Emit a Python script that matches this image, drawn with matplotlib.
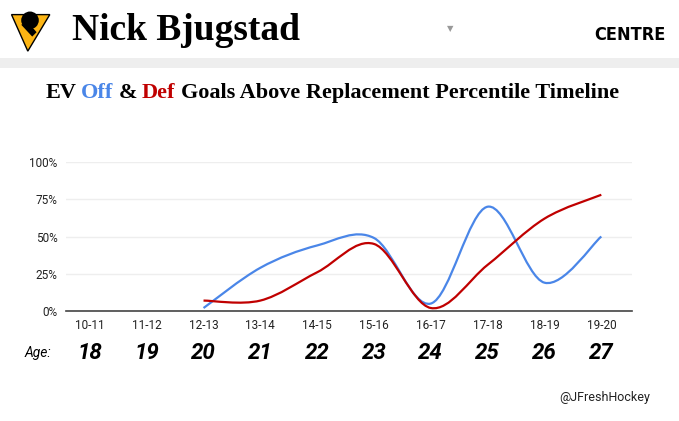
import matplotlib.pyplot as plt
from matplotlib.path import Path
from matplotlib.patches import PathPatch, Polygon, Rectangle, Circle

seasons = ["10-11", "11-12", "12-13", "13-14", "14-15", "15-16", "16-17", "17-18", "18-19", "19-20"]
ages = [18, 19, 20, 21, 22, 23, 24, 25, 26, 27]
# percentiles, None = no season played
off_pct = [None, None, 0.02, 0.29, 0.44, 0.49, 0.05, 0.70, 0.19, 0.50]
def_pct = [None, None, 0.07, 0.07, 0.26, 0.45, 0.02, 0.31, 0.62, 0.78]
yticks = [0, 0.25, 0.5, 0.75, 1.0]
ytick_labels = ["0%", "25%", "50%", "75%", "100%"]

BLUE = "#4a86e8"
RED = "#c00000"
W, H = 679, 421


def smooth_path(xs, ys):
    # catmull-rom style bezier through the points
    pts = list(zip(xs, ys))
    verts = [pts[0]]
    codes = [Path.MOVETO]
    n = len(pts)
    for i in range(n - 1):
        p0 = pts[i - 1] if i > 0 else pts[i]
        p1 = pts[i]
        p2 = pts[i + 1]
        p3 = pts[i + 2] if i + 2 < n else pts[i + 1]
        c1 = (p1[0] + (p2[0] - p0[0]) / 6, p1[1] + (p2[1] - p0[1]) / 6)
        c2 = (p2[0] - (p3[0] - p1[0]) / 6, p2[1] - (p3[1] - p1[1]) / 6)
        verts += [c1, c2, p2]
        codes += [Path.CURVE4] * 3
    return Path(verts, codes)


fig = plt.figure(figsize=(W / 100, H / 100), dpi=100)
fig.patch.set_facecolor("white")

# header
logo = fig.add_axes([8 / W, 1 - 52 / H, 44 / W, 44 / H])
logo.set_xlim(0, 1)
logo.set_ylim(0, 1)
logo.axis("off")
logo.add_patch(Polygon([[0.08, 0.85], [0.95, 0.85], [0.45, 0.02]], closed=True, fc="#fcb514", ec="black", lw=1))
logo.add_patch(Circle((0.5, 0.72), 0.2, fc="black"))
logo.add_patch(Polygon([[0.3, 0.62], [0.55, 0.35], [0.65, 0.45], [0.45, 0.68]], closed=True, fc="black"))

fig.text(72 / W, 1 - 30 / H, "Nick Bjugstad", family="Liberation Serif", weight="bold",
         fontsize=27, va="center", ha="left", color="black")
fig.text(450 / W, 1 - 29 / H, "\u25bc", fontsize=6, color="#999999", ha="center", va="center")
fig.text(666 / W, 1 - 35 / H, "CENTRE", family="DejaVu Sans", fontstretch="condensed",
         weight="bold", fontsize=13, ha="right", va="center", color="black")
fig.patches.append(Rectangle((0, 1 - 68 / H), 1, 10 / H, transform=fig.transFigure,
                             fc="#eeeeee", ec="none"))

# title with coloured words
pieces = [("EV", "black"), ("Off", BLUE), ("&", "black"), ("Def", RED),
          ("Goals Above Replacement Percentile Timeline", "black")]
renderer = fig.canvas.get_renderer()
gap = 5
texts = []
x = 0
for s, c in pieces:
    t = fig.text(x / W, 1 - 93 / H, s, family="Liberation Serif", weight="bold",
                 fontsize=16, color=c, va="center", ha="left")
    w = t.get_window_extent(renderer).width
    texts.append((t, x))
    x += w + gap
total = x - gap
start = 332 - total / 2
for t, x0 in texts:
    t.set_x((start + x0) / W)

# chart
ax = fig.add_axes([66 / W, 1 - 311 / H, (632 - 66) / W, (311 - 162) / H])
ax.set_xlim(-0.42, 9.54)
ax.set_ylim(0, 1)
ax.set_yticks(yticks)
ax.set_yticklabels(ytick_labels, family="Roboto", fontsize=8.5, color="#222222")
ax.set_xticks(range(len(seasons)))
ax.set_xticklabels(seasons, family="Roboto", fontsize=8.5, color="#222222")
ax.tick_params(axis="y", length=0, pad=6)
ax.tick_params(axis="x", length=0, pad=6)
ax.grid(axis="y", color="#eeeeee", lw=1)
ax.set_axisbelow(True)
for side in ["top", "right", "left"]:
    ax.spines[side].set_visible(False)
ax.spines["bottom"].set_color("#444444")
ax.spines["bottom"].set_linewidth(1.2)
ax.spines["bottom"].set_zorder(1)

for vals, col, z in [(def_pct, RED, 3), (off_pct, BLUE, 2)]:
    xs = [i for i, v in enumerate(vals) if v is not None]
    ys = [v for v in vals if v is not None]
    ax.add_patch(PathPatch(smooth_path(xs, ys), fill=False, ec=col, lw=1.6,
                           zorder=z, clip_on=False))

ax.text(-0.92, -0.285, "Age:", transform=ax.get_xaxis_transform(), family="Roboto",
        style="italic", fontsize=10, ha="center", va="center", color="black")
for i, a in enumerate(ages):
    ax.text(i, -0.285, str(a), transform=ax.get_xaxis_transform(), family="Roboto",
            style="italic", weight="bold", fontsize=16, ha="center", va="center", color="black")

fig.text(650 / W, 1 - 398 / H, "@JFreshHockey", family="Roboto", fontsize=9,
         ha="right", va="center", color="#222222")

fig.savefig("out.png", dpi=100)
